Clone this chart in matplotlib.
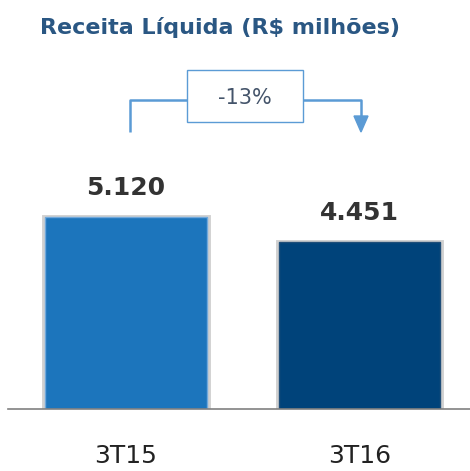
import matplotlib
matplotlib.use("Agg")
import matplotlib.pyplot as plt
from matplotlib.patches import Rectangle, Polygon

categories = ["3T15", "3T16"]
values = [5120, 4451]
value_labels = ["5.120", "4.451"]
change_label = "-13%"
title = "Receita Líquida (R$ milhões)"

bar_colors = ["#1C75BC", "#00437A"]
W, H = 470, 471
fig = plt.figure(figsize=(W / 100, H / 100), dpi=100)

# main axes: baseline at y=409 px from top, left at x=8
ax = fig.add_axes([8 / W, (H - 409) / H, (W - 8) / W, 409 / H])
px_per_unit = 192 / 5120
ax.set_ylim(0, 409 / px_per_unit)
ax.set_xlim(-118 / 233.5, (470 - 126) / 233.5)
xs = list(range(len(categories)))

# shadow
for x, v in zip(xs, values):
    ax.bar(x, v, width=0.70, color="none", edgecolor="#d0d0d0", linewidth=3.5, zorder=1)
ax.bar(xs, values, width=0.69, color=bar_colors, edgecolor=["#6FA8DC", "#1F4E79"], linewidth=1.0, zorder=2)

for x, v, lab in zip(xs, values, value_labels):
    ax.text(x, v + 17 / px_per_unit, lab, ha="center", va="bottom", fontsize=18,
            fontweight="bold", color="#333333", family="DejaVu Sans")

for s in ["top", "right", "left"]:
    ax.spines[s].set_visible(False)
ax.spines["bottom"].set_color("#808080")
ax.spines["bottom"].set_linewidth(1.2)
ax.set_yticks([])
ax.set_xticks(xs)
ax.set_xticklabels(categories, fontsize=18, color="#222222")
ax.tick_params(axis="x", length=0, pad=25)
ax.patch.set_alpha(0)

# overlay in pixel coordinates
ov = fig.add_axes([0, 0, 1, 1])
ov.set_xlim(0, W)
ov.set_ylim(H, 0)
ov.axis("off")
ov.patch.set_alpha(0)

lc = "#5B9BD5"
ov.plot([130, 130, 187], [132, 100, 100], color=lc, lw=1.8, solid_capstyle="butt")
ov.plot([303, 361, 361], [100, 100, 117], color=lc, lw=1.8, solid_capstyle="butt")
ov.add_patch(Polygon([[354, 116], [368, 116], [361, 132]], closed=True, color=lc))
ov.add_patch(Rectangle((187, 70), 116, 52, facecolor="white", edgecolor=lc, lw=1.0))
ov.text(245, 98, change_label, ha="center", va="center", fontsize=15, color="#44546A")

ov.text(40, 27, title, ha="left", va="center", fontsize=16, fontweight="bold",
        color="#2A5783", family="DejaVu Sans")

fig.savefig("out.png", dpi=100)
